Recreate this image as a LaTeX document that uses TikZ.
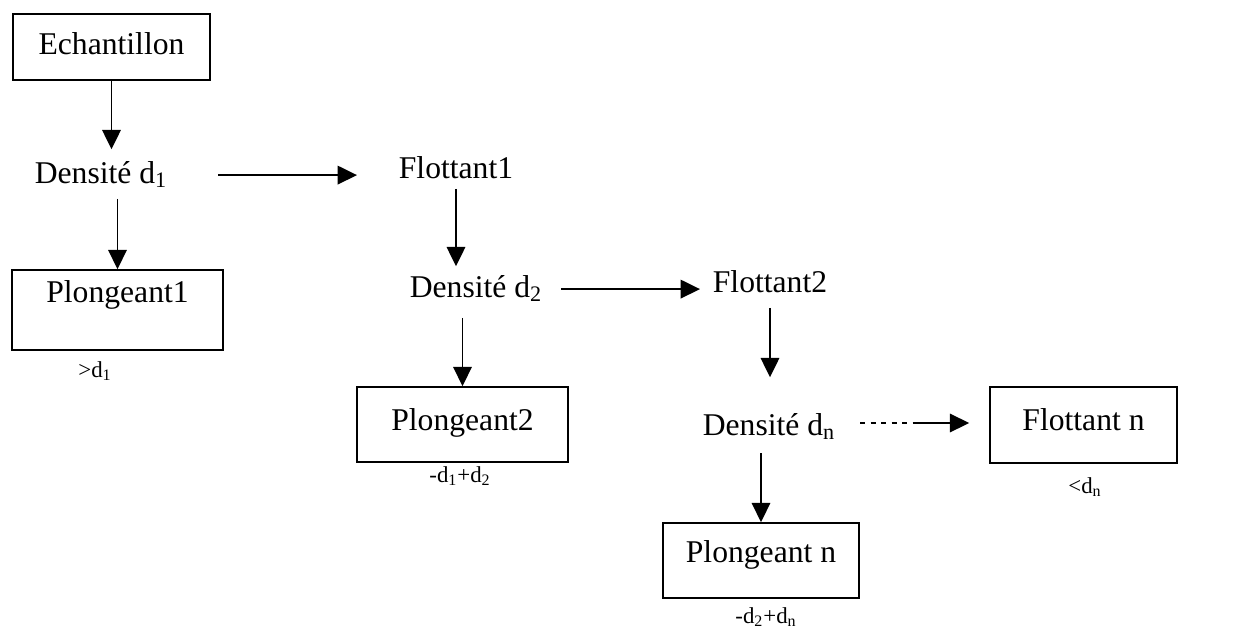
\documentclass[tikz,border=0pt]{standalone}
\usepackage{fontspec}
\setmainfont{Liberation Serif}
\usetikzlibrary{arrows.meta}

\begin{document}
\begin{tikzpicture}[every node/.style={font=\fontsize{18}{22}\selectfont,anchor=base,inner sep=2pt,text height=13pt,text depth=4pt},
  boite/.style={draw,line width=0.9pt,inner ysep=0pt},
  petit/.style={font=\fontsize{13}{15}\selectfont},
  fleche/.style={line width=1.1pt,-{Triangle[length=11pt,width=10.5pt]}}]
  \useasboundingbox (0,0) rectangle (25,-12.64);
  \node[boite,minimum width=3.94cm,text height=0.8cm,text depth=0.52cm] (ech) at (2.23,-1.08) {Echantillon};
  \node (dens1) at (2.02,-3.66) {Densité d\textsubscript{1}};
  \node (flot1) at (9.12,-3.56) {Flottant1};
  \node[boite,minimum width=4.22cm,text height=0.64cm,text depth=0.96cm] (pl1) at (2.35,-6.04) {Plongeant1};
  \node (dens2) at (9.52,-5.94) {Densité d\textsubscript{2}};
  \node (flot2) at (15.4,-5.84) {Flottant2};
  \node[boite,minimum width=4.22cm,text height=0.86cm,text depth=0.64cm] (pl2) at (9.25,-8.6) {Plongeant2};
  \node (densn) at (15.38,-8.7) {Densité d\textsubscript{n}};
  \node[boite,minimum width=3.74cm,text height=0.86cm,text depth=0.66cm] (flotn) at (21.67,-8.6) {Flottant n};
  \node[boite,minimum width=3.92cm,text height=0.78cm,text depth=0.72cm] (pln) at (15.22,-11.24) {Plongeant n};
  \node[petit] (l1) at (1.9,-7.54) {>d\textsubscript{1}};
  \node[petit] (l2) at (9.2,-9.64) {-d\textsubscript{1}+d\textsubscript{2}};
  \node[petit] (l3) at (21.7,-9.86) {<d\textsubscript{n}};
  \node[petit] (l4) at (15.32,-12.46) {-d\textsubscript{2}+d\textsubscript{n}};
  \draw[fleche,shorten >=0.14cm] (ech.south) -- (ech.south |- dens1.north);
  \draw[fleche,shorten <=0.1cm] (pl1.north |- dens1.south) -- (pl1.north);
  \draw[fleche,shorten <=0.94cm,shorten >=0.76cm] (dens1.east) -- (dens1.east -| flot1.west);
  \draw[fleche,shorten >=0.08cm] (flot1.south) -- (flot1.south |- dens2.north);
  \draw[fleche,shorten <=0.2cm] (pl2.north |- dens2.south) -- (pl2.north);
  \draw[fleche,shorten <=0.3cm,shorten >=0.18cm] (dens2.east) -- (dens2.east -| flot2.west);
  \draw[fleche,shorten <=0.1cm,shorten >=0.62cm] (flot2.south) -- (flot2.south |- densn.north);
  \draw[fleche,shorten <=0.15cm] (pln.north |- densn.south) -- (pln.north);
  \coordinate (milieu) at (18.26,-8.46);
  \draw[line width=1pt,dashed,shorten <=0.42cm] (milieu -| densn.east) -- (milieu);
  \draw[fleche,shorten >=0.4cm] (milieu) -- (milieu -| flotn.west);
\end{tikzpicture}
\end{document}
